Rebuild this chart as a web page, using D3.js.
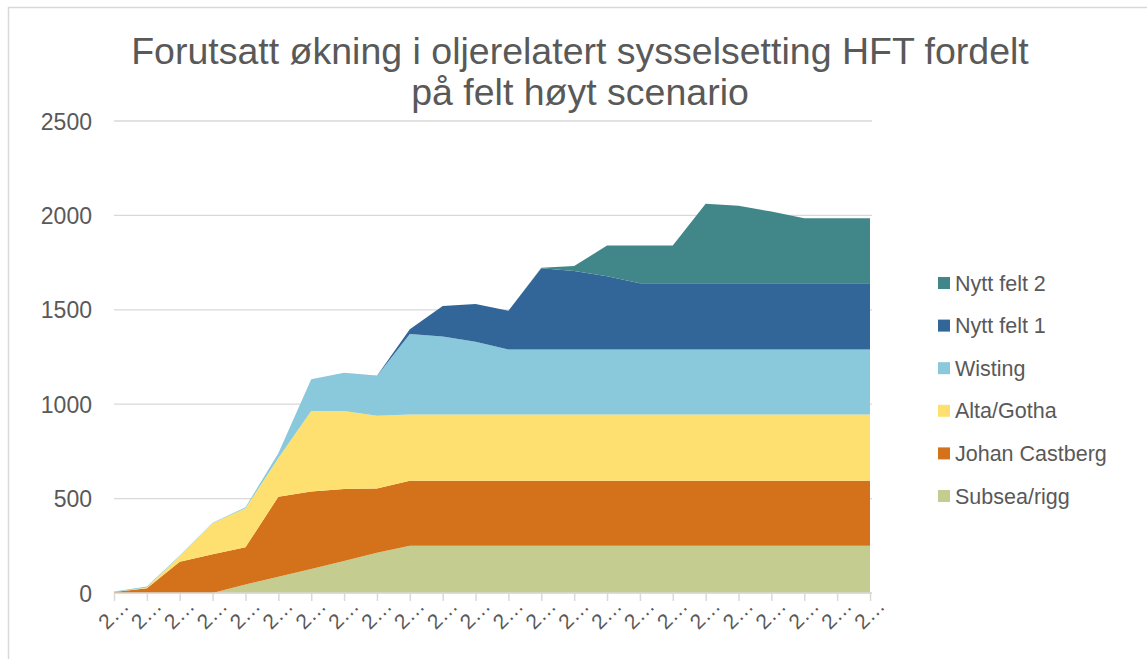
<!DOCTYPE html>
<meta charset="utf-8">

<style>
  body {
    margin: 0;
    background: #fff;
  }
  svg {
    font-family: "Liberation Sans", Arial, sans-serif;
  }
  .grid line {
    stroke: #d9d9d9;
    stroke-width: 1.3px;
  }
  .title, .tick text, .legend text {
    fill: #595959;
  }
</style>

<body>
  <svg width="1147" height="659"></svg>

  <script src="https://d3js.org/d3.v7.min.js"></script>
  <script>

      // categories (axis shows them truncated, like the original)
      var years = [2014, 2015, 2016, 2017, 2018, 2019, 2020, 2021, 2022, 2023, 2024, 2025,
                   2026, 2027, 2028, 2029, 2030, 2031, 2032, 2033, 2034, 2035, 2036, 2037];

      var seriesNames = ["Subsea/rigg", "Johan Castberg", "Alta/Gotha", "Wisting", "Nytt felt 1", "Nytt felt 2"];
      var colors = ["#c5cc8f", "#d4721b", "#fee070", "#8ac8db", "#326598", "#41878a"];

      var subsea   = [0, 0, 0, 0, 45, 86, 127, 170, 213, 250, 250, 250, 250, 250, 250, 250, 250, 250, 250, 250, 250, 250, 250, 250];
      var castberg = [5, 25, 166, 205, 197, 424, 410, 381, 341, 345, 345, 345, 345, 345, 345, 345, 345, 345, 345, 345, 345, 345, 345, 345];
      var altaGotha = [0, 4, 30, 164, 207, 205, 427, 413, 385, 350, 350, 350, 350, 350, 350, 350, 350, 350, 350, 350, 350, 350, 350, 350];
      var wisting  = [3, 6, 2, 3, 5, 25, 168, 203, 210, 427, 413, 386, 345, 345, 345, 345, 345, 345, 345, 345, 345, 345, 345, 345];
      var nyttFelt1 = [0, 0, 0, 0, 0, 0, 0, 0, 2, 25, 162, 200, 205, 430, 415, 388, 350, 350, 350, 350, 350, 350, 350, 350];
      var nyttFelt2 = [0, 0, 0, 0, 0, 0, 0, 0, 0, 0, 0, 0, 0, 3, 27, 162, 200, 200, 422, 411, 380, 345, 345, 345];

      var yTicks = [0, 500, 1000, 1500, 2000, 2500];

      var allSeries = [subsea, castberg, altaGotha, wisting, nyttFelt1, nyttFelt2];
      var table = years.map(function(yr, i) {
        var row = { year: yr };
        seriesNames.forEach(function(n, k) { row[n] = allSeries[k][i]; });
        return row;
      });

      var svg = d3.select("svg");

      // outer chart border (cut off at right/bottom like the screenshot)
      svg.append("rect")
        .attr("x", 8.5).attr("y", 7.5)
        .attr("width", 1300).attr("height", 800)
        .attr("fill", "none")
        .attr("stroke", "#d9d9d9")
        .attr("stroke-width", 1.5);

      var x = d3.scalePoint().domain(years).range([114, 870]);
      var y = d3.scaleLinear().domain([0, 2500]).range([593, 121]);

      // title
      var title = svg.append("text")
        .attr("class", "title")
        .attr("text-anchor", "middle")
        .attr("font-size", 37.5);
      title.append("tspan").attr("x", 580).attr("y", 64)
        .text("Forutsatt økning i oljerelatert sysselsetting HFT fordelt");
      title.append("tspan").attr("x", 580).attr("y", 105)
        .text("på felt høyt scenario");

      // gridlines
      svg.append("g")
        .attr("class", "grid")
        .selectAll("line")
        .data(yTicks)
        .join("line")
          .attr("x1", 114).attr("x2", 872)
          .attr("y1", function(d) { return y(d); })
          .attr("y2", function(d) { return y(d); });

      // stacked areas
      var stack = d3.stack().keys(seriesNames);
      var area = d3.area()
        .x(function(d) { return x(d.data.year); })
        .y0(function(d) { return y(d[0]); })
        .y1(function(d) { return y(d[1]); });

      svg.append("g")
        .selectAll("path")
        .data(stack(table))
        .join("path")
          .attr("fill", function(d, i) { return colors[i]; })
          .attr("d", area);

      // y axis labels
      var yAxis = d3.axisLeft(y).tickValues(yTicks).tickFormat(d3.format("d")).tickSize(0).tickPadding(0);
      svg.append("g")
        .attr("transform", "translate(92,0)")
        .call(yAxis)
        .call(function(g) {
          g.select(".domain").remove();
          g.selectAll("text").attr("font-size", 23).attr("font-family", "Liberation Sans, Arial, sans-serif").attr("dy", "0.35em");
        });

      // x axis: baseline, ticks and truncated labels
      var xAxis = d3.axisBottom(x).tickSize(8).tickSizeOuter(0).tickFormat(function() { return "2\u2026"; });
      svg.append("g")
        .attr("transform", "translate(0,593)")
        .call(xAxis)
        .call(function(g) {
          g.select(".domain").attr("stroke", "#d9d9d9").attr("stroke-width", 1.5).attr("d", "M114,0H872");
          g.selectAll(".tick line").attr("stroke", "#d9d9d9").attr("stroke-width", 1.5);
          g.selectAll("text")
            .attr("font-size", 21)
            .attr("font-family", "Liberation Sans, Arial, sans-serif")
            .attr("text-anchor", "middle")
            .attr("y", 0).attr("dy", 0)
            .attr("transform", "translate(4,26) rotate(-45)");
        });

      // legend (top series first)
      var legend = svg.append("g")
        .attr("class", "legend")
        .attr("transform", "translate(938,283)");
      var items = legend.selectAll("g")
        .data(seriesNames.slice().reverse())
        .join("g")
          .attr("transform", function(d, i) { return "translate(0," + (i * 42.6) + ")"; });
      items.append("rect")
        .attr("x", 0).attr("y", -6)
        .attr("width", 12).attr("height", 12)
        .attr("fill", function(d) { return colors[seriesNames.indexOf(d)]; });
      items.append("text")
        .attr("x", 17).attr("dy", "0.35em")
        .attr("font-size", 21.5)
        .text(function(d) { return d; });

  </script>
</body>
